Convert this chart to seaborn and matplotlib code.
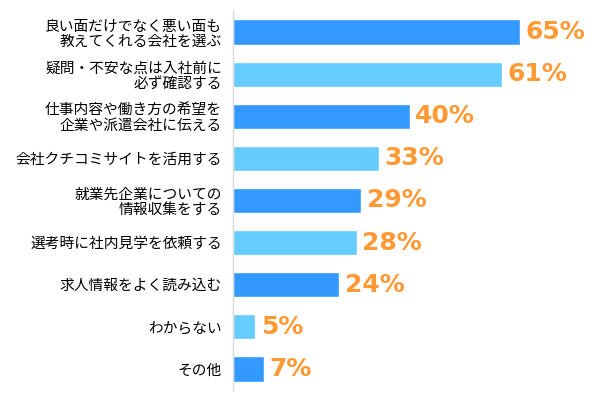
import matplotlib
matplotlib.use("Agg")
import matplotlib.pyplot as plt
import seaborn as sns
import pandas as pd

categories = [
    "良い面だけでなく悪い面も\n教えてくれる会社を選ぶ",
    "疑問・不安な点は入社前に\n必ず確認する",
    "仕事内容や働き方の希望を\n企業や派遣会社に伝える",
    "会社クチコミサイトを活用する",
    "就業先企業についての\n情報収集をする",
    "選考時に社内見学を依頼する",
    "求人情報をよく読み込む",
    "わからない",
    "その他",
]
values = [65, 61, 40, 33, 29, 28, 24, 5, 7]
colors = ["#3399FF", "#66CCFF"] * 4 + ["#3399FF"]

sns.set_theme(style="white")
plt.rcParams['font.family'] = ['Noto Sans CJK JP', 'DejaVu Sans']

df = pd.DataFrame({"cat": categories, "val": values})

W, H = 601, 397
fig = plt.figure(figsize=(W / 100, H / 100), dpi=100)
ax = fig.add_axes([233 / W, (397 - 390) / H, (586 - 233) / W, 379 / H])

sns.barplot(data=df, y="cat", x="val", hue="cat", palette=colors, legend=False,
            width=0.6, saturation=1, ax=ax, orient="h")
ax.set_xlim(0, 80)
ax.set_ylim(len(categories) - 0.5, -0.5)
ax.set_xlabel("")
ax.set_ylabel("")
ax.set_xticks([])
for s in ["top", "right", "bottom"]:
    ax.spines[s].set_visible(False)
ax.spines["left"].set_color("#D9D9D9")
ax.spines["left"].set_linewidth(1)
ax.tick_params(axis="y", length=0, pad=8, labelsize=10.6, labelcolor="#000000")
for lbl in ax.get_yticklabels():
    lbl.set_horizontalalignment("right")
    lbl.set_linespacing(1.1)

for i, v in enumerate(values):
    ax.text(v + 1.3, i, f"{v}%", va="center", ha="left", color="#FF9933",
            fontsize=18, fontweight="bold", family=["DejaVu Sans"])

fig.savefig("out.png", dpi=100)
